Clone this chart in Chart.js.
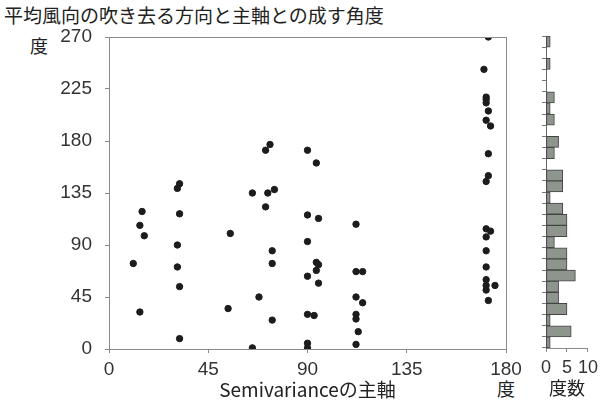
<!DOCTYPE html>
<html>
<head>
<meta charset="utf-8">
<script src="https://cdn.jsdelivr.net/npm/chart.js"></script>
<style>
  body { margin: 0; background: #fff; width: 603px; height: 402px; position: relative; overflow: hidden; }
  .lbl { position: absolute; white-space: nowrap; font-family: "Noto Sans CJK JP", sans-serif; font-size: 18px; line-height: 1; color: #222; }
  #main { position: absolute; left: 0; top: 0; width: 603px; height: 402px; }
  #hist { position: absolute; left: 520px; top: 0; width: 83px; height: 402px; }
</style>
</head>
<body>
<div class="lbl" style="left:4px;top:5px;font-size:19px">平均風向の吹き去る方向と主軸との成す角度</div>
<div class="lbl" style="left:30px;top:36px">度</div>
<div class="lbl" style="left:497px;top:379px">度</div>
<div id="main"><canvas id="scatterChart"></canvas></div>
<div id="hist"><canvas id="histChart"></canvas></div>
<script>
// Semivarianceの主軸 (度) と 平均風向との角度 (度)
const semivarAxis = [
  11, 14, 15, 16, 14,
  32, 31, 32, 31, 31, 32, 32,
  55, 54,
  65, 68, 65, 71, 73, 72, 75, 71, 74, 74, 74,
  90, 94, 90, 95, 90, 94, 95, 94, 90, 95, 90, 93, 90, 90,
  112, 112, 115, 112, 115, 112, 112, 113, 112,
  172, 170, 171, 171, 171, 172, 171, 173, 172, 172, 171, 171, 173, 171, 171, 171, 171, 171, 175, 171, 172
];
const windAngle = [
  74, 107, 119, 98, 32,
  143, 139, 117, 90, 71, 54, 9,
  100, 35,
  1, 45, 135, 172, 177, 135, 138, 123, 85, 74, 25,
  172, 161, 116, 113, 93, 75, 73, 68, 63, 57, 30, 29, 5, 1,
  108, 67, 67, 45, 40, 30, 26, 15, 4,
  270, 242, 218, 216, 213, 206, 198, 193, 169, 150, 145, 104, 102, 97, 85, 71, 60, 55, 55, 51, 42
];
const xTicks = [0, 45, 90, 135, 180];
const yTicks = [0, 45, 90, 135, 180, 225, 270];

// 度数分布 (下から 10 度ずつ)
const binLabels = [
  "0-10", "10-20", "20-30", "30-40", "40-50", "50-60", "60-70",
  "70-80", "80-90", "90-100", "100-110", "110-120", "120-130", "130-140",
  "140-150", "150-160", "160-170", "170-180", "180-190", "190-200", "200-210",
  "210-220", "220-230", "230-240", "240-250", "250-260", "260-270", "270-280"
];
const binCounts = [1, 6, 1, 5, 3, 3, 7, 5, 5, 2, 5, 5, 4, 1, 4, 4, 0, 2, 3, 0, 2, 1, 2, 0, 0, 1, 0, 1];
const countTicks = [0, 5, 10];

const tickFont = { family: "'Liberation Sans', Arial, sans-serif", size: 19 };
const jpFont = { family: "'Noto Sans CJK JP', sans-serif", size: 19 };

const frame = {
  id: "frame",
  afterDatasetsDraw(chart) {
    const { ctx, chartArea: a } = chart;
    ctx.save();
    ctx.strokeStyle = "#8a8a8a";
    ctx.lineWidth = 1;
    ctx.strokeRect(Math.round(a.left) + 0.5, Math.round(a.top) + 0.5, Math.round(a.right - a.left), Math.round(a.bottom - a.top));
    ctx.restore();
  }
};

new Chart(document.getElementById("scatterChart"), {
  type: "scatter",
  data: {
    datasets: [{
      data: semivarAxis.map((x, i) => ({ x: x, y: windAngle[i] })),
      backgroundColor: "#1c1c1c",
      borderColor: "#1c1c1c",
      pointRadius: 3.2,
    }],
  },
  options: {
    responsive: true,
    maintainAspectRatio: false,
    animation: false,
    layout: { padding: { top: 37, right: 97, left: 0, bottom: 0 } },
    plugins: { legend: { display: false }, tooltip: { enabled: false } },
    scales: {
      x: {
        type: "linear",
        min: 0,
        max: 180,
        afterBuildTicks: (s) => { s.ticks = xTicks.map((v) => ({ value: v })); },
        afterFit: (s) => { s.height = 53; },
        border: { display: false },
        grid: { drawOnChartArea: false, color: "#8a8a8a", tickLength: 4 },
        ticks: { font: tickFont, color: "#333", padding: 5, maxRotation: 0, autoSkip: false },
        title: { display: true, text: "Semivarianceの主軸", font: jpFont, color: "#222", padding: { top: 0, bottom: 1 } },
      },
      y: {
        type: "linear",
        min: 0,
        max: 270,
        afterBuildTicks: (s) => { s.ticks = yTicks.map((v) => ({ value: v })); },
        afterFit: (s) => { s.width = 109; },
        border: { display: false },
        grid: { drawOnChartArea: false, color: "#8a8a8a", tickLength: 4 },
        ticks: { font: tickFont, color: "#333", padding: 13, autoSkip: false },
      },
    },
  },
  plugins: [frame],
});

new Chart(document.getElementById("histChart"), {
  type: "bar",
  data: {
    labels: binLabels,
    datasets: [{
      data: binCounts.map((c) => (c === 0 ? null : c)),
      backgroundColor: "#8d958d",
      borderColor: "#444",
      borderWidth: 1,
      borderSkipped: false,
      barPercentage: 1,
      categoryPercentage: 1,
    }],
  },
  options: {
    indexAxis: "y",
    responsive: true,
    maintainAspectRatio: false,
    animation: false,
    layout: { padding: { top: 36, right: 10, left: 0, bottom: 0 } },
    plugins: { legend: { display: false }, tooltip: { enabled: false } },
    scales: {
      x: {
        type: "linear",
        min: 0,
        max: 10,
        afterBuildTicks: (s) => { s.ticks = countTicks.map((v) => ({ value: v })); },
        afterFit: (s) => { s.height = 54; },
        border: { display: true, color: "#8a8a8a" },
        grid: { drawOnChartArea: false, color: "#8a8a8a", tickLength: 4 },
        ticks: { font: { family: "'Liberation Sans', Arial, sans-serif", size: 18 }, color: "#333", padding: 5, maxRotation: 0, autoSkip: false },
        title: { display: true, text: "度数", font: { family: "'Noto Sans CJK JP', sans-serif", size: 18 }, color: "#222", padding: { top: 0, bottom: 3 } },
      },
      y: {
        type: "category",
        reverse: true,
        afterFit: (s) => { s.width = 26; },
        border: { display: true, color: "#666" },
        grid: { drawOnChartArea: false, color: "#777", tickLength: 4, offset: true },
        ticks: { display: false },
      },
    },
  },
});
</script>
</body>
</html>
